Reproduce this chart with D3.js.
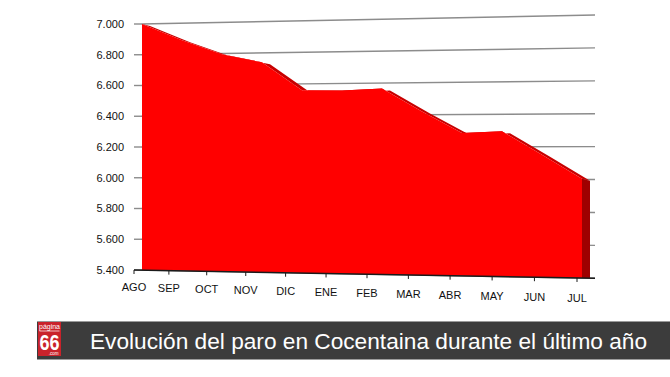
<!DOCTYPE html>
<html>
<head>
<meta charset="utf-8">
<script src="https://cdn.jsdelivr.net/npm/d3@7"></script>
<style>
  body { margin: 0; background: #fff; }
  svg { display: block; }
  text { font-family: "Liberation Sans", Arial, sans-serif; }
</style>
</head>
<body>
<div id="chart"></div>
<script>
// data
var months = ["AGO", "SEP", "OCT", "NOV", "DIC", "ENE", "FEB", "MAR", "ABR", "MAY", "JUN", "JUL"];
var paro = [7000, 6890, 6795, 6740, 6560, 6555, 6565, 6420, 6285, 6295, 6150, 6005];
var yTicks = [5400, 5600, 5800, 6000, 6200, 6400, 6600, 6800, 7000];
var title = "Evolución del paro en Cocentaina durante el último año";

var width = 670, height = 377;
var svg = d3.select("#chart").append("svg")
    .attr("width", width)
    .attr("height", height);

// perspective: the back wall is taller on the right than on the left
var wallLeft = 141, wallRight = 595;
var yLeft = d3.scaleLinear().domain([5400, 7000]).range([270, 24]);
var yRight = d3.scaleLinear().domain([5400, 7000]).range([278.3, 15]);
function proj(px, v) {
  var t = (px - wallLeft) / (wallRight - wallLeft);
  return yLeft(v) + t * (yRight(v) - yLeft(v));
}

// area vertices and axis ticks
var xArea = d3.scaleLinear().domain([0, months.length - 1]).range([142, 582]);
var xTick = d3.scalePow().exponent(1.06).domain([0, months.length - 1]).range([134, 577]);
var depth = {dx: 8, dy: 2};

var fmt = d3.formatLocale({decimal: ",", thousands: ".", grouping: [3], currency: ["", ""]}).format(",");

// gridlines on the back wall
svg.selectAll(".grid")
  .data(yTicks)
  .enter().append("line")
    .attr("class", "grid")
    .attr("x1", wallLeft)
    .attr("x2", wallRight)
    .attr("y1", function(d) { return yLeft(d); })
    .attr("y2", function(d) { return yRight(d); })
    .attr("stroke", "#8c8c8c")
    .attr("stroke-width", 1.4);

// y ticks and labels
svg.selectAll(".ytick")
  .data(yTicks)
  .enter().append("line")
    .attr("x1", 134).attr("x2", wallLeft)
    .attr("y1", function(d) { return yLeft(d); })
    .attr("y2", function(d) { return yLeft(d); })
    .attr("stroke", "#8c8c8c")
    .attr("stroke-width", 1.4);

svg.selectAll(".ylab")
  .data(yTicks)
  .enter().append("text")
    .attr("x", 124)
    .attr("y", function(d) { return yLeft(d); })
    .attr("dy", "0.35em")
    .attr("text-anchor", "end")
    .style("font-size", "11px")
    .style("fill", "#111")
    .text(function(d) { return fmt(d); });

var pts = paro.map(function(v, i) { return {i: i, v: v}; });
var last = pts[pts.length - 1];

// top face of the 3d area
var topLine = d3.line()
  .x(function(d) { return xArea(d.i); })
  .y(function(d) { return proj(xArea(d.i), d.v); });
var backLine = d3.line()
  .x(function(d) { return xArea(d.i) + depth.dx; })
  .y(function(d) { return proj(xArea(d.i), d.v) + depth.dy; });
var back = pts.slice().reverse();
svg.append("path")
  .attr("d", topLine(pts) + "L" + backLine(back).slice(1) + "Z")
  .attr("fill", "#c80000");

// right side face
var xr = xArea(last.i);
svg.append("path")
  .attr("d", d3.line()([
    [xr, proj(xr, last.v)],
    [xr + depth.dx, proj(xr, last.v) + depth.dy],
    [xr + depth.dx, proj(xr + depth.dx, 5400)],
    [xr, proj(xr, 5400)]
  ]) + "Z")
  .attr("fill", "#9e0000");

// front face
var area = d3.area()
  .x(function(d) { return xArea(d.i); })
  .y0(function(d) { return proj(xArea(d.i), 5400); })
  .y1(function(d) { return proj(xArea(d.i), d.v); });
svg.append("path")
  .attr("d", area(pts))
  .attr("fill", "#ff0000");

// floor edge / x axis
svg.append("line")
  .attr("x1", 134).attr("y1", yLeft(5400))
  .attr("x2", wallRight).attr("y2", yRight(5400))
  .attr("stroke", "#1a1a1a")
  .attr("stroke-width", 1.5);

function baseY(px) {
  return 270 + (px - 134) / (wallRight - 134) * (yRight(5400) - 270);
}

svg.selectAll(".xtick")
  .data(months)
  .enter().append("line")
    .attr("x1", function(d, i) { return xTick(i); })
    .attr("x2", function(d, i) { return xTick(i); })
    .attr("y1", function(d, i) { return baseY(xTick(i)); })
    .attr("y2", function(d, i) { return baseY(xTick(i)) + 4; })
    .attr("stroke", "#1a1a1a")
    .attr("stroke-width", 1);

svg.selectAll(".xlab")
  .data(months)
  .enter().append("text")
    .attr("x", function(d, i) { return xTick(i); })
    .attr("y", function(d, i) { return baseY(xTick(i)) + 17 + 3 * i / 11; })
    .attr("dy", "0.35em")
    .attr("text-anchor", "middle")
    .style("font-size", "11px")
    .style("fill", "#111")
    .text(function(d) { return d; });

// caption banner
svg.append("rect")
  .attr("x", 37).attr("y", 321.5)
  .attr("width", width - 37).attr("height", 38)
  .attr("fill", "#3c3c3c");
svg.append("line")
  .attr("x1", 37).attr("x2", width)
  .attr("y1", 321.5).attr("y2", 321.5)
  .attr("stroke", "#9a9a9a")
  .attr("stroke-width", 1);

// logo
var logo = svg.append("g").attr("transform", "translate(38,322)");
logo.append("rect")
  .attr("width", 23).attr("height", 34)
  .attr("fill", "#c9232b");
logo.append("text")
  .attr("x", 11.5).attr("y", 7)
  .attr("text-anchor", "middle")
  .style("font-size", "7px")
  .style("fill", "#fff")
  .text("página");
logo.append("line")
  .attr("x1", 1.5).attr("x2", 21.5)
  .attr("y1", 9).attr("y2", 9)
  .attr("stroke", "#fff")
  .attr("stroke-width", 0.7);
logo.append("text")
  .attr("transform", "translate(11.5,28) scale(1,1.25)")
  .attr("text-anchor", "middle")
  .style("font-size", "18px")
  .style("font-weight", "bold")
  .style("fill", "#fff")
  .text("66");
logo.append("text")
  .attr("x", 20.5).attr("y", 32.5)
  .attr("text-anchor", "end")
  .style("font-size", "4.5px")
  .style("fill", "#fff")
  .text(".com");

svg.append("text")
  .attr("x", 90)
  .attr("y", 341.5)
  .attr("dy", "0.35em")
  .attr("textLength", 557)
  .attr("lengthAdjust", "spacingAndGlyphs")
  .style("font-size", "21.5px")
  .style("fill", "#fff")
  .text(title);
</script>
</body>
</html>
